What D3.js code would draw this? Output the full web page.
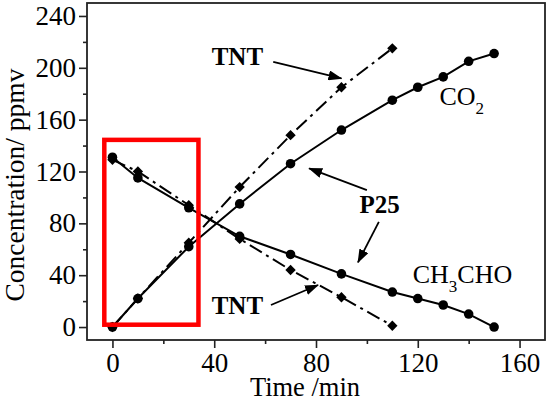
<!DOCTYPE html>
<html>
<head>
<meta charset="utf-8">
<script src="https://cdn.jsdelivr.net/npm/d3@7"></script>
<style>
  body { margin: 0; background: #fff; }
  svg { display: block; }
  text { font-family: "Liberation Serif", "Times New Roman", serif; fill: #000; }
</style>
</head>
<body>
<div id="chart"></div>
<script>
// time axis (min)
var timeP25 = [0, 10, 30, 50, 70, 90, 110, 120, 130, 140, 150]
var timeTNT = [0, 10, 30, 50, 70, 90, 110]

// concentrations (ppmv)
var co2P25 = [0, 22, 62, 95, 126, 152, 175, 185, 193, 205, 211]
var acetP25 = [131, 115, 92, 70, 56, 41, 27, 22, 17, 10, 0]
var co2TNT = [0, 22, 65, 108, 148, 185, 215]
var acetTNT = [129, 120, 94, 68, 44, 23, 1]

var xTicks = [0, 40, 80, 120, 160]
var xMinor = [20, 60, 100, 140]
var yTicks = [0, 40, 80, 120, 160, 200, 240]
var yMinor = [20, 60, 100, 140, 180, 220]

var W = 550, H = 401
// plot box (note: "top" is taken by window.top)
var pL = 87, pR = 545, pT = 3, pB = 340

var x = d3.scaleLinear().domain([-10, 170]).range([pL, pR])
var y = d3.scaleLinear().domain([-10, 250]).range([pB, pT])

var svg = d3.select('#chart').append('svg')
    .attr('width', W)
    .attr('height', H)

// ticks
svg.append('g').attr('transform', 'translate(' + pL + ',0)')
    .call(d3.axisLeft(y).tickValues(yTicks).tickSize(8).tickPadding(3).tickFormat(d3.format('d')))
svg.append('g').attr('transform', 'translate(' + pL + ',0)')
    .call(d3.axisLeft(y).tickValues(yMinor).tickSize(4).tickFormat(''))
svg.append('g').attr('transform', 'translate(0,' + pB + ')')
    .call(d3.axisBottom(x).tickValues(xTicks).tickSize(8).tickPadding(5).tickFormat(d3.format('d')))
svg.append('g').attr('transform', 'translate(0,' + pB + ')')
    .call(d3.axisBottom(x).tickValues(xMinor).tickSize(4).tickFormat(''))

svg.selectAll('.domain').remove()
svg.selectAll('.tick line').attr('stroke', '#222').attr('stroke-width', 1.6)
svg.selectAll('.tick text').attr('font-size', 27)
    .style('font-family', '"Liberation Serif", serif').attr('fill', '#000')

// frame
svg.append('rect')
    .attr('x', pL).attr('y', pT)
    .attr('width', pR - pL).attr('height', pB - pT)
    .attr('fill', 'none').attr('stroke', '#222').attr('stroke-width', 1.8)

// axis titles
svg.append('text')
    .attr('x', (pL + pR) / 2 - 11).attr('y', 396)
    .attr('text-anchor', 'middle').attr('font-size', 26.5)
    .text('Time /min')
svg.append('text')
    .attr('transform', 'translate(24,185) rotate(-90)')
    .attr('text-anchor', 'middle').attr('font-size', 27.5)
    .text('Concentration/ ppmv')

// series
function pairs(ts, vs) {
    return ts.map(function (t, i) { return [t, vs[i]] })
}
var line = d3.line().x(function (d) { return x(d[0]) }).y(function (d) { return y(d[1]) })

var series = [
    { data: pairs(timeTNT, co2TNT), dash: '14,5,3,5', mark: 'diamond' },
    { data: pairs(timeTNT, acetTNT), dash: '14,5,3,5', mark: 'diamond' },
    { data: pairs(timeP25, co2P25), dash: null, mark: 'circle' },
    { data: pairs(timeP25, acetP25), dash: null, mark: 'circle' }
]

series.forEach(function (s) {
    svg.append('path')
        .attr('d', line(s.data))
        .attr('fill', 'none')
        .attr('stroke', '#000')
        .attr('stroke-width', 2)
        .attr('stroke-dasharray', s.dash)
    var sym = s.mark == 'circle'
        ? d3.symbol().type(d3.symbolCircle).size(72)
        : d3.symbol().type(d3.symbolDiamond2).size(68)
    svg.selectAll(null)
        .data(s.data)
        .enter()
        .append('path')
        .attr('d', sym)
        .attr('transform', function (d) { return 'translate(' + x(d[0]) + ',' + y(d[1]) + ')' })
        .attr('fill', '#000')
})

// red box around the first 30 min
var box = [-3.2, 33.8, 1.8, 144.4]
svg.append('rect')
    .attr('x', x(box[0])).attr('y', y(box[3]))
    .attr('width', x(box[1]) - x(box[0]))
    .attr('height', y(box[2]) - y(box[3]))
    .attr('fill', 'none').attr('stroke', '#ff0000').attr('stroke-width', 4.5)

// arrows
svg.append('defs').append('marker')
    .attr('id', 'head')
    .attr('viewBox', '0 0 14 10')
    .attr('refX', 13).attr('refY', 5)
    .attr('markerWidth', 14).attr('markerHeight', 10)
    .attr('markerUnits', 'userSpaceOnUse')
    .attr('orient', 'auto')
    .append('path').attr('d', 'M0,0 L14,5 L0,10 Z').attr('fill', '#000')

var arrows = [
    [63.2, 204.6, 90, 191.8],
    [100, 105.6, 77.3, 122.4],
    [104.7, 81.2, 96.5, 49.9],
    [62.3, 17, 80.8, 32.4]
]
svg.selectAll('.arrow')
    .data(arrows)
    .enter()
    .append('line')
    .attr('class', 'arrow')
    .attr('x1', function (d) { return x(d[0]) })
    .attr('y1', function (d) { return y(d[1]) })
    .attr('x2', function (d) { return x(d[2]) })
    .attr('y2', function (d) { return y(d[3]) })
    .attr('stroke', '#000')
    .attr('stroke-width', 1.8)
    .attr('marker-end', 'url(#head)')

// labels
var bold = [['TNT', 49.1, 202], ['P25', 105, 87.9], ['TNT', 49.1, 9.8]]
svg.selectAll('.blabel')
    .data(bold)
    .enter()
    .append('text')
    .attr('class', 'blabel')
    .attr('x', function (d) { return x(d[1]) })
    .attr('y', function (d) { return y(d[2]) })
    .attr('text-anchor', 'middle')
    .attr('font-size', 25)
    .attr('font-weight', 'bold')
    .text(function (d) { return d[0] })

var co2 = svg.append('text')
    .attr('x', x(128.5)).attr('y', y(171.2))
    .attr('font-size', 26)
co2.append('tspan').text('CO')
co2.append('tspan').attr('dy', 9).attr('font-size', 17).text('2')

var ch = svg.append('text')
    .attr('x', x(118)).attr('y', y(33.7))
    .attr('font-size', 26)
ch.append('tspan').text('CH')
ch.append('tspan').attr('dy', 9).attr('font-size', 17).text('3')
ch.append('tspan').attr('dy', -9).text('CHO')
</script>
</body>
</html>
